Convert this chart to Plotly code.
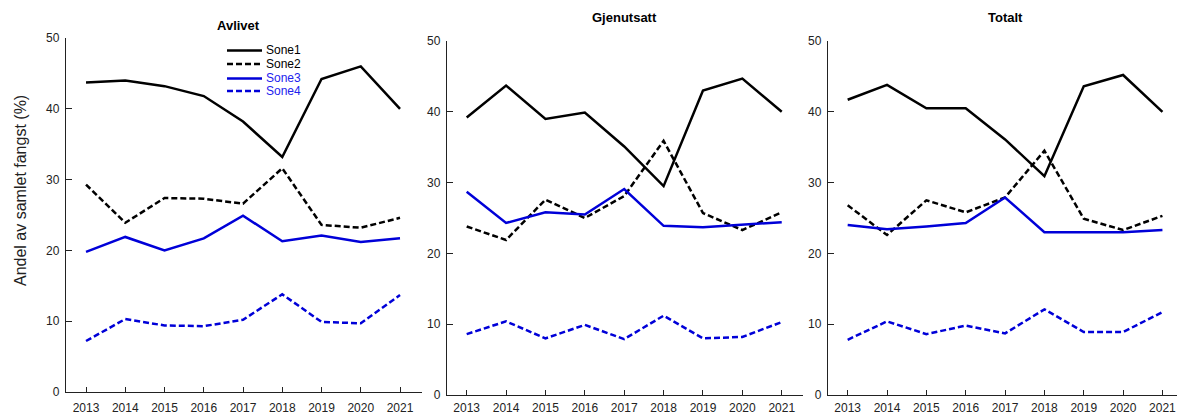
import plotly.graph_objects as go

years = [2013, 2014, 2015, 2016, 2017, 2018, 2019, 2020, 2021]
panels = ["Avlivet", "Gjenutsatt", "Totalt"]
zones = ["Sone1", "Sone2", "Sone3", "Sone4"]

avlivet_sone1 = [43.7, 44.0, 43.2, 41.8, 38.2, 33.2, 44.2, 46.0, 40.0]
avlivet_sone2 = [29.3, 23.9, 27.4, 27.3, 26.6, 31.6, 23.6, 23.2, 24.6]
avlivet_sone3 = [19.8, 21.9, 20.0, 21.7, 24.9, 21.3, 22.1, 21.2, 21.7]
avlivet_sone4 = [7.2, 10.3, 9.4, 9.3, 10.2, 13.8, 9.9, 9.7, 13.7]

gjenutsatt_sone1 = [39.2, 43.7, 39.0, 39.9, 35.1, 29.5, 43.0, 44.7, 40.0]
gjenutsatt_sone2 = [23.8, 21.9, 27.6, 25.0, 28.1, 35.9, 25.7, 23.3, 25.8]
gjenutsatt_sone3 = [28.7, 24.3, 25.8, 25.5, 29.1, 23.9, 23.7, 24.1, 24.4]
gjenutsatt_sone4 = [8.6, 10.4, 8.0, 9.9, 7.9, 11.2, 8.0, 8.2, 10.3]

totalt_sone1 = [41.7, 43.8, 40.5, 40.5, 36.1, 30.9, 43.6, 45.2, 40.0]
totalt_sone2 = [26.8, 22.6, 27.5, 25.8, 27.9, 34.5, 24.9, 23.3, 25.3]
totalt_sone3 = [24.0, 23.4, 23.8, 24.3, 27.9, 23.0, 23.0, 23.0, 23.3]
totalt_sone4 = [7.8, 10.4, 8.6, 9.8, 8.7, 12.1, 8.9, 8.9, 11.7]

data = [
    [avlivet_sone1, avlivet_sone2, avlivet_sone3, avlivet_sone4],
    [gjenutsatt_sone1, gjenutsatt_sone2, gjenutsatt_sone3, gjenutsatt_sone4],
    [totalt_sone1, totalt_sone2, totalt_sone3, totalt_sone4],
]

W, H = 1177, 414
BLUE = "#0000D8"
DASH = "6px,3px"
styles = [("black", "solid"), ("black", DASH), (BLUE, "solid"), (BLUE, DASH)]
FONT = "Liberation Sans, Arial, sans-serif"

# pixel geometry of each panel: x-left, x-right, y-top, y-bottom, x-range, label standoff
geo = [
    (66, 422, 38, 392, [2012.49, 2021.56], 4),
    (447, 803, 41, 395, [2012.5, 2021.54], 1),
    (828, 1177, 41, 395, [2012.5, 2021.37], 1),
]

fig = go.Figure()
layout = dict(
    width=W, height=H, margin=dict(l=0, r=0, t=0, b=0, pad=0, autoexpand=False),
    paper_bgcolor="white", plot_bgcolor="white", showlegend=False,
    font=dict(family=FONT, size=12, color="#222"),
)
annotations = []
shapes = []
for i, (name, series) in enumerate(zip(panels, data)):
    xl, xr, yt, yb, xrng, so = geo[i]
    xa = "xaxis" if i == 0 else f"xaxis{i+1}"
    ya = "yaxis" if i == 0 else f"yaxis{i+1}"
    xref = "x" if i == 0 else f"x{i+1}"
    yref = "y" if i == 0 else f"y{i+1}"
    layout[xa] = dict(
        domain=[xl / W, xr / W], range=xrng, anchor=yref,
        tickmode="array", tickvals=years, ticktext=[str(y) for y in years],
        ticks="inside", ticklen=5, tickcolor="#222", showline=True, linecolor="#222",
        linewidth=1.3, showgrid=False, zeroline=False, tickfont=dict(size=12),
        ticklabelstandoff=so, automargin=False,
    )
    layout[ya] = dict(
        domain=[1 - yb / H, 1 - yt / H], range=[0, 50], anchor=xref,
        tickmode="array", tickvals=[0, 10, 20, 30, 40, 50],
        ticks="inside", ticklen=6, tickcolor="#222", showline=True, linecolor="#222",
        linewidth=1.3, showgrid=False, zeroline=False, tickfont=dict(size=12),
        ticklabelstandoff=3, automargin=False,
    )
    for z, (vals, (col, dash)) in enumerate(zip(series, styles)):
        fig.add_trace(go.Scatter(
            x=years, y=vals, mode="lines", name=zones[z],
            line=dict(color=col, width=2.5, dash=dash),
            xaxis=xref, yaxis=yref,
        ))
    ty = 25 if i == 0 else 18
    cx = 238 if i == 0 else (624 if i == 1 else 1005)
    annotations.append(dict(
        text=f"<b>{name}</b>", x=cx / W, y=1 - ty / H, xref="paper", yref="paper",
        showarrow=False, font=dict(size=13, color="black"), xanchor="center", yanchor="middle",
    ))

# legend drawn in panel 1
leg_y = [50.5, 64, 78.5, 91]
for z, (col, dash) in enumerate(styles):
    yy = 1 - leg_y[z] / H
    shapes.append(dict(type="line", xref="paper", yref="paper",
                       x0=227 / W, x1=262 / W, y0=yy, y1=yy,
                       line=dict(color=col, width=2.5, dash=dash)))
    tcol = "black" if z < 2 else "#2222EE"
    annotations.append(dict(
        text=zones[z], x=264 / W, y=yy, xref="paper", yref="paper", showarrow=False,
        xanchor="left", yanchor="middle", font=dict(size=12, color=tcol),
    ))

annotations.append(dict(
    text="Andel av samlet fangst (%)", x=20 / W, y=1 - 191 / H, xref="paper", yref="paper",
    showarrow=False, textangle=-90, xanchor="center", yanchor="middle",
    font=dict(size=16, color="#222"),
))

layout["annotations"] = annotations
layout["shapes"] = shapes
fig.update_layout(**layout)
fig.write_html("out.html")
